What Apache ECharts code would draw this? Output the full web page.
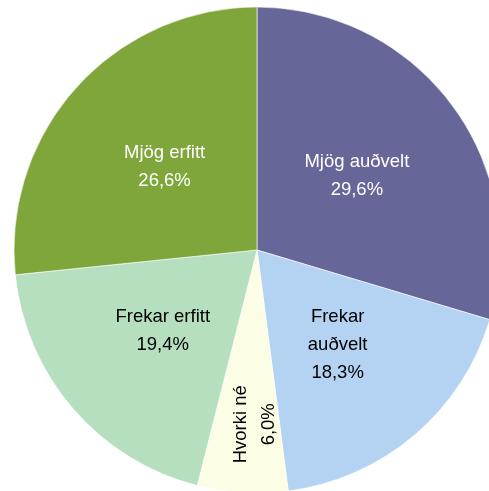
<!DOCTYPE html>
<html><head><meta charset="utf-8">
<script src="https://cdn.jsdelivr.net/npm/echarts@6/dist/echarts.min.js"></script>
<style>html,body{margin:0;padding:0;background:#fff}#c{width:489px;height:491px}</style>
</head><body><div id="c"></div>
<script>
const categories = ["Mjög auðvelt", "Frekar auðvelt", "Hvorki né", "Frekar erfitt", "Mjög erfitt"];
const labelTexts = ["Mjög auðvelt", "Frekar\nauðvelt", "Hvorki né", "Frekar erfitt", "Mjög erfitt"];
const values = [29.6, 18.3, 6.0, 19.4, 26.6];
const colors = ["#666699", "#b4d3f2", "#fbfde5", "#b6dfc0", "#7fa63b"];
const labelColors = ["#ffffff", "#000000", "#000000", "#000000", "#ffffff"];

const chart = echarts.init(document.getElementById('c'));
chart.setOption({
  animation: false,
  series: [{
    type: 'pie',
    center: [257, 250],
    radius: [0, 243],
    startAngle: 90,
    clockwise: true,
    itemStyle: { borderColor: '#ffffff', borderWidth: 0.6 },
    label: {
      position: 'inside',
      fontFamily: '"Liberation Sans Narrow", "Arial Narrow", "Liberation Sans", sans-serif',
      fontSize: 18.5,
      lineHeight: 28,
      align: 'center'
    },
    labelLine: { show: false },
    labelLayout: function (p) {
      if (p.dataIndex === 2) return { dx: -50, dy: 5 };
      return {};
    },
    data: categories.map((c, i) => ({
      name: c,
      value: values[i],
      itemStyle: { color: colors[i] },
      label: {
        color: labelColors[i],
        rotate: i === 2 ? 90 : 0,
        formatter: labelTexts[i] + '\n' + values[i].toFixed(1).replace('.', ',') + '%'
      }
    }))
  }]
});
</script></body></html>
